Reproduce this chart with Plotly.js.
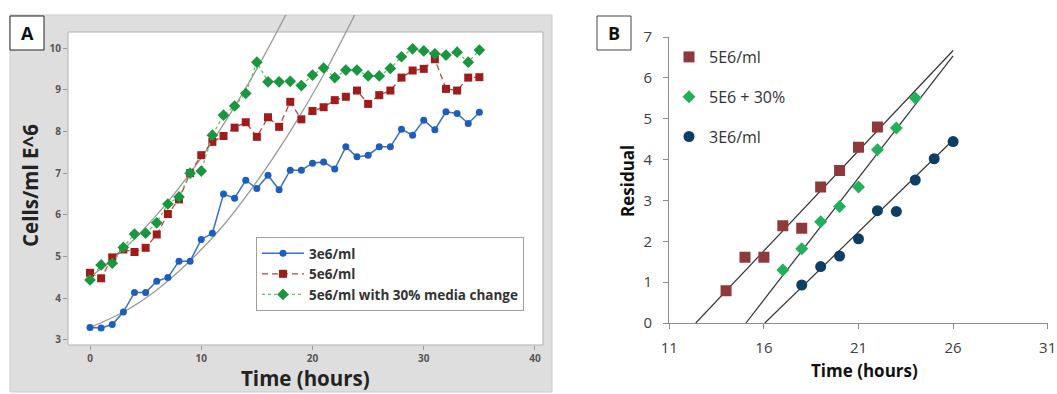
<!DOCTYPE html>
<html>
<head>
<meta charset="utf-8">
<script src="https://cdn.plot.ly/plotly-3.0.1.min.js"></script>
<style>html,body{margin:0;padding:0;background:#fff;}#chart{width:1057px;height:394px;}</style>
</head>
<body>
<div id="chart"></div>
<script>
// ---------- Panel A data ----------
const hoursA = [0,1,2,3,4,5,6,7,8,9,10,11,12,13,14,15,16,17,18,19,20,21,22,23,24,25,26,27,28,29,30,31,32,33,34,35];
const cells3e6 = [3.30,3.29,3.37,3.67,4.14,4.14,4.41,4.50,4.89,4.89,5.41,5.56,6.50,6.40,6.83,6.63,6.95,6.60,7.07,7.07,7.24,7.27,7.10,7.63,7.39,7.43,7.63,7.63,8.05,7.91,8.27,8.04,8.47,8.43,8.19,8.46];
const cells5e6 = [4.61,4.48,4.98,5.17,5.11,5.21,5.53,6.02,6.37,7.00,7.43,7.75,7.89,8.09,8.22,7.87,8.34,8.11,8.71,8.29,8.49,8.58,8.75,8.83,8.98,8.66,8.87,8.98,9.29,9.46,9.50,9.73,9.02,8.98,9.29,9.30];
const cells5e6mc = [4.44,4.80,4.84,5.22,5.54,5.56,5.81,6.26,6.43,7.00,7.05,7.91,8.39,8.61,8.91,9.66,9.19,9.19,9.20,9.10,9.35,9.52,9.29,9.47,9.47,9.33,9.33,9.51,9.79,9.98,9.93,9.86,9.83,9.90,9.66,9.95];
// fitted growth curves
const fitHighX = [0,3,6,9,12,15,18];
const fitHighY = [4.50,5.17,6.00,7.00,8.17,9.50,11.00];
const fitLowX = [0,3,6,9,12,15,18,21,24];
const fitLowY = [3.30,3.67,4.20,4.90,5.75,6.80,8.00,9.36,10.90];
const namesA = ['3e6/ml','5e6/ml','5e6/ml with 30% media change'];
const ticksAx = [0,10,20,30,40];
const ticksAy = [3,4,5,6,7,8,9,10];

// ---------- Panel B data ----------
const bRedX = [14,15,16,17,18,19,20,21,22];
const bRedY = [0.79,1.61,1.61,2.38,2.32,3.33,3.73,4.30,4.80];
const bGreenX = [17,18,19,20,21,22,23,24];
const bGreenY = [1.30,1.82,2.48,2.85,3.33,4.24,4.77,5.51];
const bBlueX = [18,19,20,21,22,23,24,25,26];
const bBlueY = [0.93,1.38,1.64,2.06,2.75,2.73,3.50,4.02,4.44];
const trendRedX = [12.4,26.0], trendRedY = [0,6.67];
const trendGreenX = [15.05,26.0], trendGreenY = [0,6.54];
const trendBlueX = [16.05,26.0], trendBlueY = [0,4.48];
const namesB = ['5E6/ml','5E6 + 30%','3E6/ml'];
const ticksBx = [11,16,21,26,31];
const ticksBy = [0,1,2,3,4,5,6,7];

const W = 1057, H = 394;
const px = v => v / W;
const py = v => 1 - v / H;
const F = 'Open Sans, sans-serif';

const traces = [
  {x: fitHighX, y: fitHighY, xaxis:'x', yaxis:'y', mode:'lines', line:{color:'#9a9a9a', width:1.3, shape:'spline'}, showlegend:false, hoverinfo:'skip'},
  {x: fitLowX, y: fitLowY, xaxis:'x', yaxis:'y', mode:'lines', line:{color:'#9a9a9a', width:1.3, shape:'spline'}, showlegend:false, hoverinfo:'skip'},
  {x: hoursA, y: cells3e6, name: namesA[0], xaxis:'x', yaxis:'y', mode:'lines+markers',
   line:{color:'#3a70c8', width:1.5}, marker:{symbol:'circle', size:7, color:'#1f5cc0'}},
  {x: hoursA, y: cells5e6, name: namesA[1], xaxis:'x', yaxis:'y', mode:'lines+markers',
   line:{color:'#b84444', width:1.3, dash:'6px,4px'}, marker:{symbol:'square', size:8, color:'#a01c1c'}},
  {x: hoursA, y: cells5e6mc, name: namesA[2], xaxis:'x', yaxis:'y', mode:'lines+markers',
   line:{color:'#63c063', width:1.3, dash:'dot'}, marker:{symbol:'diamond', size:9, color:'#1a9640'}},
  // Panel B
  {x: trendRedX, y: trendRedY, xaxis:'x2', yaxis:'y2', mode:'lines', line:{color:'#333', width:1.2}, showlegend:false},
  {x: trendGreenX, y: trendGreenY, xaxis:'x2', yaxis:'y2', mode:'lines', line:{color:'#333', width:1.2}, showlegend:false},
  {x: trendBlueX, y: trendBlueY, xaxis:'x2', yaxis:'y2', mode:'lines', line:{color:'#333', width:1.2}, showlegend:false},
  {x: bRedX, y: bRedY, name: namesB[0], xaxis:'x2', yaxis:'y2', mode:'markers', legend:'legend2', legendgroup:'r',
   marker:{symbol:'square', size:11, color:'#8e3a3d'}},
  {x: bGreenX, y: bGreenY, name: namesB[1], xaxis:'x2', yaxis:'y2', mode:'markers', legend:'legend2', legendgroup:'g',
   marker:{symbol:'diamond', size:10, color:'#22b05c'}},
  {x: bBlueX, y: bBlueY, name: namesB[2], xaxis:'x2', yaxis:'y2', mode:'markers', legend:'legend2', legendgroup:'b',
   marker:{symbol:'circle', size:11, color:'#0e3d66'}}
];

const layout = {
  width: W, height: H,
  margin: {l:0, r:0, t:0, b:0},
  paper_bgcolor: '#ffffff',
  plot_bgcolor: 'rgba(0,0,0,0)',
  showlegend: true,
  xaxis: {domain:[px(68), px(543)], range:[-1.978, 40.72], anchor:'y', tickvals: ticksAx,
    ticks:'outside', ticklen:4, tickcolor:'#999', showgrid:false, zeroline:false, showline:false,
    tickfont:{family:F, size:10, color:'#555', weight:'bold'}},
  yaxis: {domain:[py(345), py(15)], range:[2.880, 10.791], anchor:'x', tickvals: ticksAy,
    ticks:'outside', ticklen:4, tickcolor:'#999', showgrid:false, zeroline:false, showline:false,
    tickfont:{family:F, size:10, color:'#555', weight:'bold'}},
  xaxis2: {domain:[px(669.3), px(1047.7)], range:[11,31], anchor:'y2', tickvals: ticksBx,
    showline:true, linecolor:'#8c8c8c', linewidth:1.3, ticks:'outside', ticklen:5, tickcolor:'#8c8c8c',
    showgrid:false, zeroline:false, tickfont:{family:F, size:15, color:'#404040'}, ticklabelstandoff:6},
  yaxis2: {domain:[py(323), py(37)], range:[0,7], anchor:'x2', tickvals: ticksBy,
    showline:true, linecolor:'#8c8c8c', linewidth:1.3, ticks:'outside', ticklen:5, tickcolor:'#8c8c8c',
    showgrid:false, zeroline:false, tickfont:{family:F, size:15, color:'#404040'}, ticklabelstandoff:8},
  legend: {x: px(256), y: py(237), xanchor:'left', yanchor:'top', bgcolor:'#ffffff', itemwidth:42,
    bordercolor:'#a0a0a0', borderwidth:1, font:{family:F, size:13.5, color:'#333', weight:'bold'}},
  legend2: {x: px(669), y: py(40), xanchor:'left', yanchor:'top', bgcolor:'rgba(0,0,0,0)',
    borderwidth:0, traceorder:'grouped', tracegroupgap:16, font:{family:F, size:16, color:'#333'}},
  shapes: [
    {type:'rect', xref:'paper', yref:'paper', x0:px(10), x1:px(552), y0:py(392), y1:py(15),
     fillcolor:'#dedede', line:{color:'#cacaca', width:1}, layer:'below'},
    {type:'rect', xref:'paper', yref:'paper', x0:px(68), x1:px(543), y0:py(345), y1:py(32),
     fillcolor:'#ffffff', line:{color:'#b0b0b0', width:1}, layer:'below'},
    {type:'rect', xref:'paper', yref:'paper', x0:px(10), x1:px(44), y0:py(50), y1:py(16),
     fillcolor:'#ffffff', line:{color:'#222', width:1}, layer:'below'},
    {type:'rect', xref:'paper', yref:'paper', x0:px(597), x1:px(631), y0:py(50), y1:py(16),
     fillcolor:'#ffffff', line:{color:'#444', width:1}, layer:'below'}
  ],
  annotations: [
    {text:'A', xref:'paper', yref:'paper', x:px(27), y:py(33), showarrow:false, xanchor:'center', yanchor:'middle',
     font:{family:F, size:18, color:'#111', weight:'bold'}},
    {text:'B', xref:'paper', yref:'paper', x:px(614), y:py(33), showarrow:false, xanchor:'center', yanchor:'middle',
     font:{family:F, size:18, color:'#111', weight:'bold'}},
    {text:'Cells/ml E^6', xref:'paper', yref:'paper', x:px(30), y:py(186), showarrow:false, textangle:-90,
     xanchor:'center', yanchor:'middle', font:{family:F, size:20.5, color:'#222', weight:'bold'}},
    {text:'Time (hours)', xref:'paper', yref:'paper', x:px(305), y:py(378), showarrow:false,
     xanchor:'center', yanchor:'middle', font:{family:F, size:20.5, color:'#222', weight:'bold'}},
    {text:'Residual', xref:'paper', yref:'paper', x:px(627), y:py(181), showarrow:false, textangle:-90,
     xanchor:'center', yanchor:'middle', font:{family:F, size:17, color:'#111', weight:'bold'}},
    {text:'Time (hours)', xref:'paper', yref:'paper', x:px(864), y:py(370), showarrow:false,
     xanchor:'center', yanchor:'middle', font:{family:F, size:17, color:'#111', weight:'bold'}}
  ]
};

Plotly.newPlot('chart', traces, layout, {displayModeBar:false, staticPlot:true});
</script>
</body>
</html>
